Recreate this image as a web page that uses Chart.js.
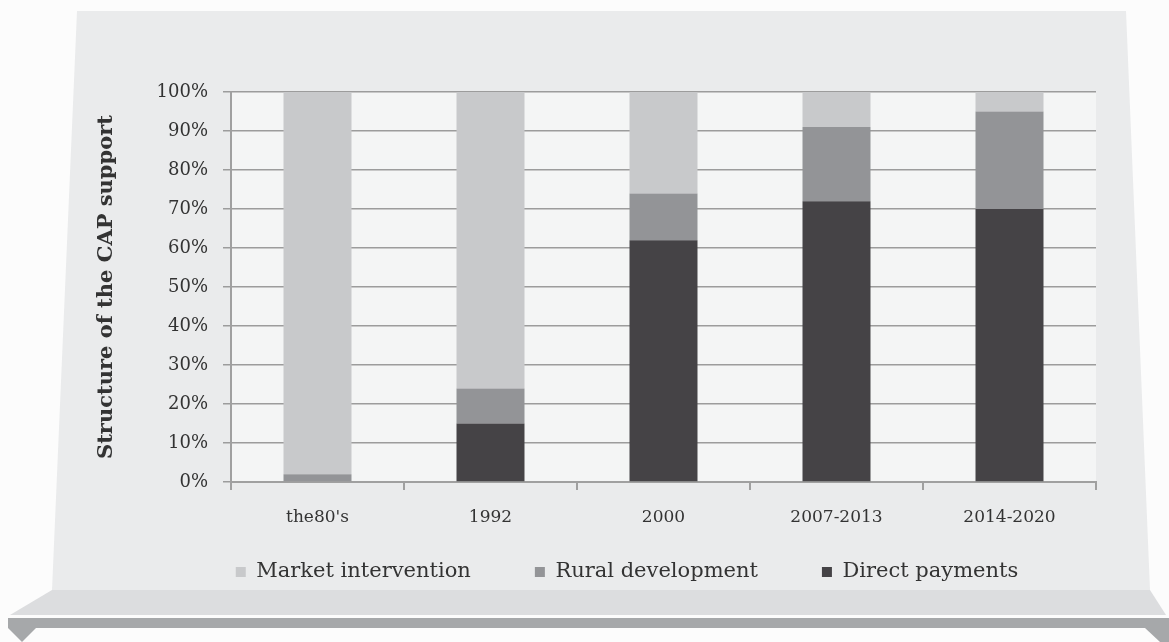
<!DOCTYPE html>
<html>
<head>
<meta charset="utf-8">
<script src="https://cdn.jsdelivr.net/npm/chart.js@4/dist/chart.umd.min.js"></script>
<style>
  html, body { margin: 0; padding: 0; background: #fcfcfc; }
  #wrap { width: 1169px; height: 642px; position: relative; }
</style>
</head>
<body>
<div id="wrap"><canvas id="capChart" width="1169" height="642"></canvas></div>
<script>
// Chart data
const categories = ["the80's", '1992', '2000', '2007-2013', '2014-2020'];
const directPayments = [0, 15, 62, 72, 70];
const ruralDevelopment = [2, 9, 12, 19, 25];
const marketIntervention = [98, 76, 26, 9, 5];
const yAxisTitle = 'Structure of the CAP support';

// Decorative panel + plot background
const backdrop = {
    id: 'backdrop',
    beforeDraw(chart) {
        const ctx = chart.ctx;
        const poly = (pts, color) => {
            ctx.beginPath();
            ctx.moveTo(pts[0][0], pts[0][1]);
            for (let i = 1; i < pts.length; i++) ctx.lineTo(pts[i][0], pts[i][1]);
            ctx.closePath();
            ctx.fillStyle = color;
            ctx.fill();
        };
        ctx.save();
        ctx.fillStyle = '#fcfcfc';
        ctx.fillRect(0, 0, chart.width, chart.height);
        poly([[77, 11], [1126, 11], [1150, 590], [52, 590]], '#eaebec');
        poly([[52, 590], [1150, 590], [1166, 615], [10, 615]], '#dcdddf');
        poly([[8, 618], [1169, 618], [1169, 628], [8, 628]], '#a6a8aa');
        poly([[8, 628], [36, 628], [22, 642]], '#a6a8aa');
        poly([[1145, 628], [1169, 628], [1169, 642], [1160, 642]], '#a6a8aa');
        const a = chart.chartArea;
        ctx.fillStyle = '#f4f5f5';
        ctx.fillRect(a.left, a.top, a.right - a.left, a.bottom - a.top);
        ctx.restore();
    }
};

const serif = "'DejaVu Serif', 'Liberation Serif', serif";

new Chart(document.getElementById('capChart'), {
    type: 'bar',
    data: {
        labels: categories,
        datasets: [
            { label: 'Direct payments', data: directPayments, backgroundColor: '#454346' },
            { label: 'Rural development', data: ruralDevelopment, backgroundColor: '#939497' },
            { label: 'Market intervention', data: marketIntervention, backgroundColor: '#c8c9cb' }
        ]
    },
    options: {
        responsive: false,
        animation: false,
        events: [],
        // left padding shifts the legend centre; the y scale fills the rest up to the axis
        layout: { padding: { top: 92, left: 158, right: 73, bottom: 49.5 } },
        datasets: { bar: { categoryPercentage: 1, barPercentage: 0.393 } },
        plugins: {
            tooltip: { enabled: false },
            legend: {
                position: 'bottom',
                reverse: true,
                labels: {
                    color: '#333',
                    font: { family: serif, size: 21 },
                    boxWidth: 10,
                    boxHeight: 10,
                    padding: 22,
                    // extra trailing space gives the wide gap between items (not after the last one)
                    generateLabels(chart) {
                        const items = Chart.defaults.plugins.legend.labels.generateLabels(chart);
                        items.forEach(it => {
                            if (it.datasetIndex !== 0) it.text = it.text + '\u2003\u2003';
                        });
                        return items;
                    }
                }
            }
        },
        scales: {
            x: {
                stacked: true,
                afterFit(scale) { scale.height = 57.5; },
                border: { color: '#a0a0a0', width: 2 },
                grid: { offset: true, drawOnChartArea: false, tickLength: 8, color: '#a0a0a0', lineWidth: 2 },
                ticks: { color: '#333', font: { family: serif, size: 17 }, padding: 17 }
            },
            y: {
                stacked: true,
                min: 0,
                max: 100,
                afterFit(scale) { scale.width = 73; },
                border: { color: '#a0a0a0', width: 2 },
                grid: { color: '#9c9c9c', lineWidth: 1.5, tickLength: 8 },
                ticks: {
                    stepSize: 10,
                    color: '#333',
                    font: { family: serif, size: 18 },
                    padding: 15,
                    callback: v => v + '%'
                },
                title: {
                    display: true,
                    text: yAxisTitle,
                    color: '#333',
                    font: { family: serif, size: 21, weight: 'bold' },
                    padding: { top: -64, bottom: 0 }
                }
            }
        }
    },
    plugins: [backdrop]
});
</script>
</body>
</html>
